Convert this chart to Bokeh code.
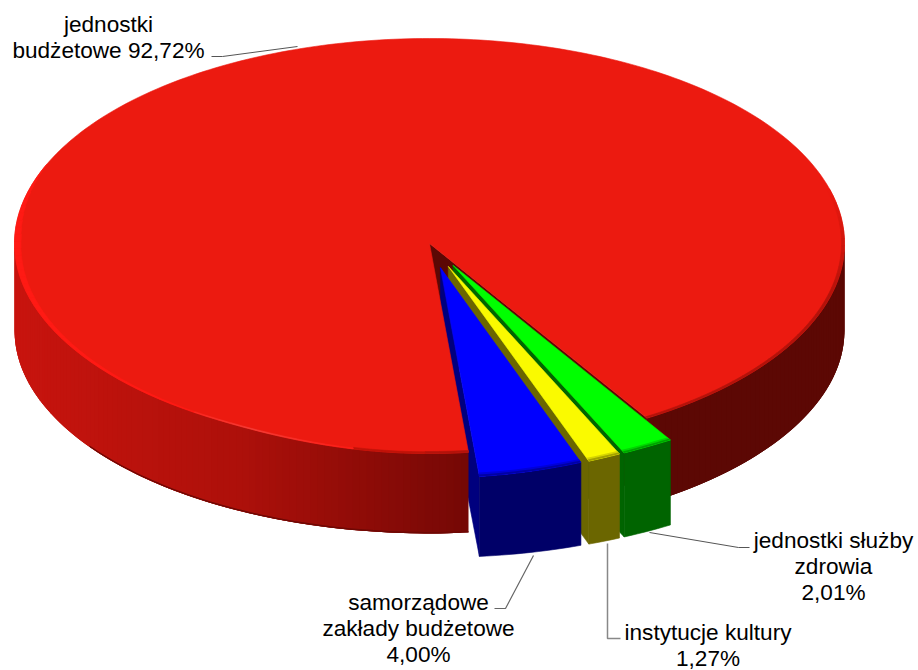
import math
from bokeh.plotting import figure, ColumnDataSource
from bokeh.models import Range1d
from bokeh.core.properties import value
from bokeh.embed import file_html
from bokeh.resources import INLINE

# ---- data ----
categories = ["jednostki budżetowe", "jednostki służby zdrowia", "instytucje kultury", "samorządowe zakłady budżetowe"]
shares = [92.72, 2.01, 1.27, 4.00]
explode = [0, 50, 50, 50]
top_colors = ["#ec1a10", "#00ff00", "#fafa00", "#0000ff"]
wall_colors = ["#5c0804", "#006400", "#6b6600", "#000068"]
side_colors = ["#5c0804", "#006400", "#6b6600", "#00007e"]
label_lines = [["jednostki", "budżetowe 92,72%"],
               ["jednostki służby", "zdrowia", "2,01%"],
               ["instytucje kultury", "1,27%"],
               ["samorządowe", "zakłady budżetowe", "4,00%"]]
label_x = [108, 833, 707.5, 418]
label_y = [23.5, 540, 632, 602]
leader_x = [[211, 222, 297], [749, 738, 649], [620, 607, 607], [494, 505, 533]]
leader_y = [[56, 56, 46], [547, 547, 532], [638, 638, 543], [608, 608, 555]]
leader_color = ["#555555", "#555555", "#888888", "#666666"]
leader_width = [1, 1, 1.5, 1.2]
first_slice_angle = 148.4   # clockwise from 12 o'clock, start of the second slice

# ---- projection ----
CX, R = 429, 415
TOP_Y, TOP_K, BOT_Y, BOT_K = 243, 0.494, 330, 0.489

def hx(c):
    return [int(c[i:i+2], 16) for i in (1, 3, 5)]

def mix(a, b, t):
    t = max(0, min(1, t))
    return "#%02x%02x%02x" % tuple(round(u + (v - u) * t) for u, v in zip(hx(a), hx(b)))

def pt(a, r, off, mid, level, lift=0):
    ra, rm = math.radians(a), math.radians(mid)
    dx = r * math.sin(ra) + off * math.sin(rm)
    dy0 = -r * math.cos(ra)
    dy1 = -off * math.cos(rm)
    if level == "top":
        t = max(0, (dy0 / R - 0.85) / 0.15)
        return CX + dx, TOP_Y + (dy0 + dy1) * TOP_K + 5 * t * t
    return CX + dx, BOT_Y + (dy0 + dy1) * BOT_K - lift

def arc(a0, a1, r, off, mid, level, step=1.0, lift=0):
    n = max(2, int(abs(a1 - a0) / step) + 1)
    return [pt(a0 + (a1 - a0) * i / (n - 1), r, off, mid, level, lift) for i in range(n)]

xs, ys, fills, line_alpha = [], [], [], []

def add(points, color, edge=1):
    xs.append([q[0] for q in points])
    ys.append([q[1] for q in points])
    fills.append(color)
    line_alpha.append(edge)

# slice angles
a = first_slice_angle
spans = {}
for i in (1, 2, 3):
    spans[i] = (a, a + shares[i] * 3.6)
    a += shares[i] * 3.6
spans[0] = (a, a + shares[0] * 3.6)
red0, red1 = spans[0]


def side_red(x):
    stops = [(14, "#c8140e"), (240, "#ad100a"), (470, "#740805"), (640, "#5c0804"), (900, "#5c0804")]
    for (x0, c0), (x1, c1) in zip(stops, stops[1:]):
        if x <= x1:
            return mix(c0, c1, (x - x0) / (x1 - x0))
    return stops[-1][1]


def left_wall(i):
    a0 = spans[i][1]
    mid = sum(spans[i]) / 2
    off = explode[i]
    add([pt(a0, 0, off, mid, "top"), pt(a0, R, off, mid, "top"),
         pt(a0, R, off, mid, "bot"), pt(a0, 0, off, mid, "bot")], side_colors[i])


# red cut face seen through the gap
add([pt(red1, 0, 0, 0, "top"), pt(red1, R, 0, 0, "top"), pt(red1, R, 0, 0, "bot"), pt(red1, 0, 0, 0, "bot")], "#5c0804")
# cut faces of the pulled-out slices, nearest last; the red body hides what it must
for i in (1, 2, 3):
    left_wall(i)

# red outer wall: each strip runs on under the next one so no seams show
STEP = 1.0
for lo, hi in ((red0, 270), (red1, 450)):
    n = int(round(abs(hi - lo) / STEP))
    seq = [lo + (hi - lo) * k / n for k in range(n + 1)]
    for k in range(n):
        b, e = seq[k], seq[k + 1]
        e2 = seq[min(n, k + 3)]
        q = [pt(b, R, 0, 0, "top"), pt(e, R, 0, 0, "top"), pt(e, R, 0, 0, "bot"), pt(b, R, 0, 0, "bot")]
        q2 = [pt(b, R, 0, 0, "top"), pt(e2, R, 0, 0, "top"), pt(e2, R, 0, 0, "bot"), pt(b, R, 0, 0, "bot")]
        add(q2, side_red(sum(p[0] for p in q) / 4), 0)

# darker lip along the bottom of the red wall, front part
add(arc(red0, 235, R, 0, 0, "bot") + arc(235, red0, R, 0, 0, "bot", lift=1.5), "#6e0804", 0)

# red top
add([pt(0, 0, 0, 0, "top")] + arc(red0, red1, R, 0, 0, "top"), top_colors[0])

# red rim: light on the lower left, shaded on the right
def rim_style(ang):
    ang = ang % 360
    if 270 <= ang <= 292:
        return 6.5 * (292 - ang) / 22 + 0.5, "#ff1a14"
    if 215 <= ang < 270:
        return 1.5 + 5 * (ang - 215) / 55, "#ff1a14"
    if 190 <= ang < 215:
        return 1.5, mix("#ff1a14", "#f54038", 1 - abs(ang - 205) / 15)
    if ang < 190 and ang >= 180:
        return 2.5, "#c01208"
    if 75 <= ang < 180:
        t = min(1, (ang - 75) / 30)
        return 3, mix(top_colors[0], "#a01008", 0.75 * t)
    return 0, None

b = red0
while b < red1:
    e = min(red1, b + 2)
    w, c = rim_style((b + e) / 2)
    if w:
        add([pt(b, R, 0, 0, "top"), pt(e, R, 0, 0, "top"), pt(e, R - w, 0, 0, "top"), pt(b, R - w, 0, 0, "top")], c)
    b = e

# pulled-out slices, back to front
for i in (1, 2, 3):
    a0, a1 = spans[i]
    mid = (a0 + a1) / 2
    off = explode[i]
    add(arc(a0, a1, R, off, mid, "top") + arc(a1, a0, R, off, mid, "bot"), wall_colors[i])
    add([pt(0, 0, off, mid, "top")] + arc(a0, a1, R, off, mid, "top"), top_colors[i])
    add(arc(a0, a1, R, off, mid, "top") + arc(a1, a0, R - 6, off, mid, "top"), mix(top_colors[i], wall_colors[i], 0.25), 0)
    add(arc(a0, a1, R, off, mid, "top") + arc(a1, a0, R - 3, off, mid, "top"), mix(top_colors[i], wall_colors[i], 0.6), 0)

# ---- figure ----
p = figure(width=918, height=670, x_range=Range1d(0, 918), y_range=Range1d(670, 0),
           output_backend="svg", toolbar_location=None, min_border=0,
           background_fill_color="#ffffff", border_fill_color="#ffffff", outline_line_color=None)
p.axis.visible = False
p.grid.visible = False

p.patches(xs="xs", ys="ys", fill_color="fills", line_color="fills", line_width=0.6, line_alpha="line_alpha",
          source=ColumnDataSource(dict(xs=xs, ys=ys, fills=fills, line_alpha=line_alpha)))

for lx, ly, c, w in zip(leader_x, leader_y, leader_color, leader_width):
    p.line(lx, ly, line_color=c, line_width=w)

LINE = 26
tx, ty, tt = [], [], []
for lines, x, y in zip(label_lines, label_x, label_y):
    for k, t in enumerate(lines):
        tx.append(x)
        ty.append(y + k * LINE)
        tt.append(t)
p.text(tx, ty, text=tt, text_font=value("Liberation Sans"), text_font_size="22.6px",
       text_color="#000000", text_align="center", text_baseline="middle")

open("out.html", "w").write(file_html(p, INLINE))
